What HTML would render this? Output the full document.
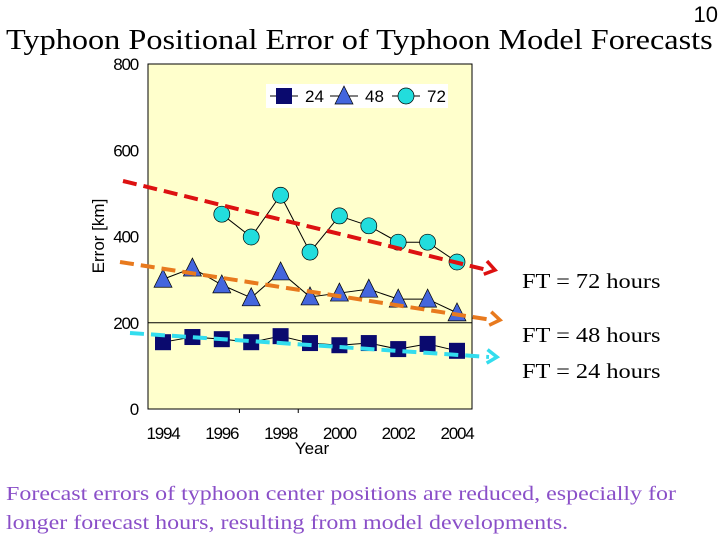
<!DOCTYPE html>
<html><head><meta charset="utf-8"><style>
body{margin:0;width:720px;height:540px;background:#fff;overflow:hidden;position:relative;font-family:"Liberation Serif",serif}
.t{position:absolute;white-space:nowrap;transform-origin:0 0}
</style></head><body>
<div class="t" style="right:2px;top:2px;font:22px 'Liberation Sans',sans-serif">10</div>
<div class="t" style="left:6px;top:24px;font-size:29px;transform:scaleX(1.113)">Typhoon Positional Error of Typhoon Model Forecasts</div>
<svg id="c" width="720" height="540" style="position:absolute;left:0;top:0"></svg>
<div class="t" style="left:522px;top:269px;font-size:21px;transform:scaleX(1.16)">FT = 72 hours</div>
<div class="t" style="left:522px;top:323px;font-size:21px;transform:scaleX(1.16)">FT = 48 hours</div>
<div class="t" style="left:522px;top:359px;font-size:21px;transform:scaleX(1.16)">FT = 24 hours</div>
<div class="t" style="left:6px;top:480px;font-size:20.5px;color:#8a4fc8;line-height:29px;transform:scaleX(1.17)">Forecast errors of typhoon center positions are reduced, especially for<br>longer forecast hours, resulting from model developments.</div>
<script>
const years=[1994,1995,1996,1997,1998,1999,2000,2001,2002,2003,2004];
const s24=[155,167,162,155,169,153,148,153,139,151,135];
const s48=[301,327,288,258,318,260,269,278,255,255,223];
const s72=[null,null,452,399,496,364,448,425,387,387,341];
const yTicks=[0,200,400,600,800];
const xTicks=[1994,1996,1998,2000,2002,2004];
const NS='http://www.w3.org/2000/svg';
const svg=document.getElementById('c');
const X=y=>163+(y-1994)*29.4;
const Y=v=>409-v*0.431;
function mk(t,a,p){const e=document.createElementNS(NS,t);for(const k in a)e.setAttribute(k,a[k]);(p||svg).appendChild(e);return e;}
let e=mk('rect',{x:148,y:64,width:324,height:345,fill:'#ffffcc',stroke:'#000','stroke-width':1});

mk('line',{x1:148,x2:472,y1:Y(200),y2:Y(200),stroke:'#000'});
yTicks.forEach(v=>{const t=mk('text',{x:138,y:Y(v)+6,'text-anchor':'end','font-family':'Liberation Sans,sans-serif','font-size':17,'letter-spacing':'-1.2'});t.textContent=v;
});
xTicks.forEach(v=>{const t=mk('text',{x:X(v),y:439,'text-anchor':'middle','font-family':'Liberation Sans,sans-serif','font-size':17,'letter-spacing':'-1.2'});t.textContent=v;
});
[1996.6,1998.6].forEach(v=>mk('line',{x1:X(v),x2:X(v),y1:409,y2:413,stroke:'#000'}));
let t=mk('text',{x:312,y:454,'text-anchor':'middle','font-family':'Liberation Sans,sans-serif','font-size':17});t.textContent='Year';

t=mk('text',{x:104,y:236,'text-anchor':'middle','font-family':'Liberation Sans,sans-serif','font-size':17,transform:'rotate(-90 104 236)'});t.textContent='Error [km]';

function series(d,name,mark){let p='';d.forEach((v,i)=>{if(v==null)return;p+=(p?'L':'M')+X(years[i])+' '+Y(v);});
const l=mk('path',{d:p,fill:'none',stroke:'#000','stroke-width':1});
d.forEach((v,i)=>{if(v==null)return;const m=mark(X(years[i]),Y(v));});}
const sq=(x,y)=>mk('rect',{x:x-8,y:y-8,width:16,height:16,fill:'#0a0a6e'});
const tri=(x,y)=>mk('polygon',{points:`${x},${y-10} ${x-9},${y+8} ${x+9},${y+8}`,fill:'#4466dd',stroke:'#000','stroke-width':0.7});
const cir=(x,y)=>mk('circle',{cx:x,cy:y,r:8,fill:'#22dddd',stroke:'#000','stroke-width':0.7});
series(s72,'ft72',cir);series(s48,'ft48',tri);series(s24,'ft24',sq);
const lg=mk('g',{});
mk('rect',{x:266,y:84,width:182,height:24,fill:'#fff'},lg);
[[270,'24',sq],[330,'48',tri],[392,'72',cir]].forEach(([x,l,f])=>{mk('line',{x1:x,x2:x+28,y1:96,y2:96,stroke:'#000'},lg);f(x+14,96);const tt=mk('text',{x:x+35,y:102,'font-family':'Liberation Sans,sans-serif','font-size':17},lg);tt.textContent=l;});
function trend(x1,y1,x2,y2,c,name){const g=mk('g',{});
mk('line',{x1,y1,x2:x2-8,y2,stroke:c,'stroke-width':4,'stroke-dasharray':'14 7'},g);
const a=Math.atan2(y2-y1,x2-x1),L=12;
mk('polyline',{points:`${x2-L*Math.cos(a-0.6)},${y2-L*Math.sin(a-0.6)} ${x2},${y2} ${x2-L*Math.cos(a+0.6)},${y2-L*Math.sin(a+0.6)}`,fill:'none',stroke:c,'stroke-width':3.5},g);}
trend(123,181,495,270,'#dd1111','trend-72');
trend(120,262,500,320,'#e87a1e','trend-48');
trend(130,333,497,357,'#33ddee','trend-24');
</script>
</body></html>
